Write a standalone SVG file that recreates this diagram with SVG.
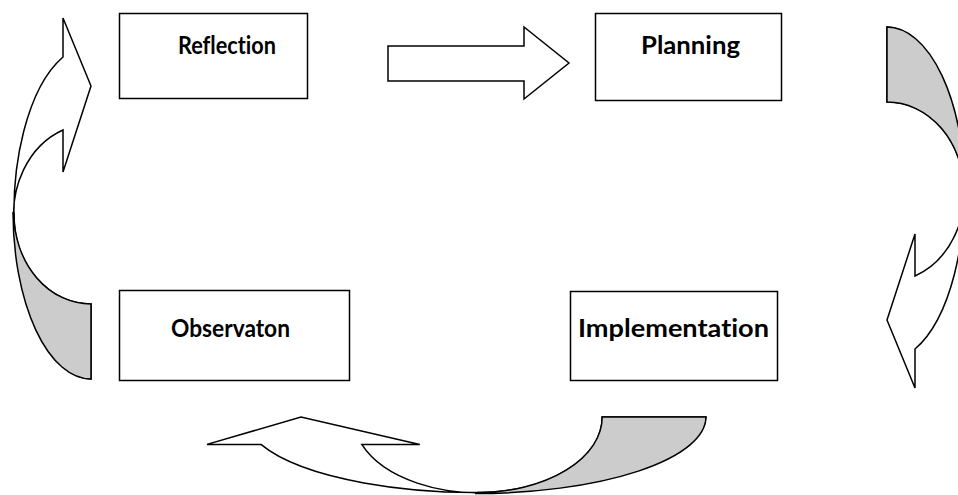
<svg xmlns="http://www.w3.org/2000/svg" width="958" height="495" viewBox="0 0 958 495">
<style>
.box{fill:#fff;stroke:#000;stroke-width:1.5}
.lbl{font-family:Lato,"Liberation Sans",sans-serif;font-weight:bold;font-size:24px;fill:#000;font-variant-ligatures:none}
.arw{fill:#fff;stroke:#000;stroke-width:1.5;stroke-linejoin:miter}
.back{fill:#cccccc;stroke:#000;stroke-width:1.5}
</style>
<rect width="958" height="495" fill="#fff"/>
<g id="connectors">
  <path id="arrow-reflection-planning" class="arw" d="M388,46 L524,46 L524,27 L569,63 L524,99 L524,81 L388,81 Z"/>
  <g id="arrow-observation-reflection">
    <path class="arw" d="M91,379 L91,304 A77,90 0 0 1 63,130 L63,172 L91,86 L63,18 L63,57 A78,167 0 0 0 91,379 Z"/>
    <path class="back" d="M13,212 A78,167 0 0 0 91,379 L91,304 A77,90 0 0 1 14,214 Z"/>
  </g>
  <g id="arrow-planning-implementation" transform="rotate(180 489 203)">
    <path class="arw" d="M91,379 L91,304 A77,90 0 0 1 63,130 L63,172 L91,86 L63,18 L63,57 A78,167 0 0 0 91,379 Z"/>
    <path class="back" d="M13,212 A78,167 0 0 0 91,379 L91,304 A77,90 0 0 1 14,214 Z"/>
  </g>
  <g id="arrow-implementation-observation">
    <path class="arw" d="M705.9,417 L602.2,417 A124.4,75.5 0 0 1 361.8,444.4 L419.8,444.4 L301,417 L207,444.4 L260.9,444.4 A230.8,76.4 0 0 0 705.9,417 Z"/>
    <path class="back" d="M475.1,493.5 A230.8,76.4 0 0 0 705.9,417 L602.2,417 A124.4,75.5 0 0 1 477.8,492.5 Z"/>
  </g>
</g>
<g id="reflection">
  <rect class="box" x="119.5" y="13.5" width="188" height="85"/>
  <text class="lbl" x="178" y="54" textLength="98" lengthAdjust="spacingAndGlyphs">Reflection</text>
</g>
<g id="planning">
  <rect class="box" x="595.5" y="13.5" width="186" height="87"/>
  <text class="lbl" x="641" y="54" textLength="99" lengthAdjust="spacingAndGlyphs">Planning</text>
</g>
<g id="observaton">
  <rect class="box" x="119.5" y="290.5" width="230" height="90"/>
  <text class="lbl" x="171" y="337" textLength="119" lengthAdjust="spacingAndGlyphs">Observaton</text>
</g>
<g id="implementation">
  <rect class="box" x="570.5" y="291.5" width="207" height="89"/>
  <text class="lbl" x="578" y="337" textLength="191" lengthAdjust="spacingAndGlyphs">Implementation</text>
</g>
</svg>
